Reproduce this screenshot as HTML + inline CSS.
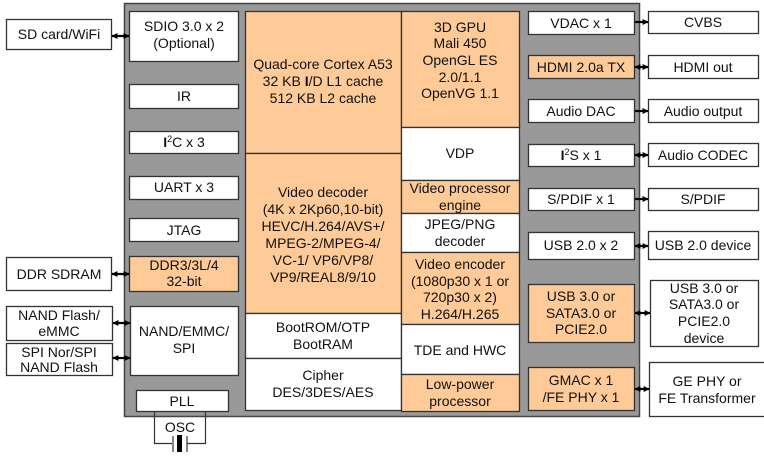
<!DOCTYPE html>
<html><head><meta charset="utf-8"><style>
html,body{margin:0;padding:0;background:#fff;width:764px;height:458px;overflow:hidden}
svg{display:block}
text{font-family:"Liberation Sans",sans-serif;font-size:14px;fill:#111;text-anchor:middle}
.b{stroke:#333;stroke-width:1.3}
.w{fill:#fff}
.o{fill:#fdca98}
</style></head><body>
<svg width="764" height="458" viewBox="0 0 764 458">
<defs>
<marker id="a" viewBox="0 0 10 10" refX="9" refY="5" markerWidth="6" markerHeight="6" orient="auto-start-reverse" markerUnits="userSpaceOnUse"><path d="M0,0L10,5L0,10z" fill="#000"/></marker>
</defs>
<rect x="124.5" y="3.5" width="515" height="413" fill="#999" stroke="#444" stroke-width="1.5"/>
<rect class="b w" x="129.5" y="11.5" width="109" height="50"/>
<text x="184" y="31">SDIO 3.0 x 2</text><text x="184" y="48">(Optional)</text>
<rect class="b w" x="129.5" y="84.5" width="109" height="24"/><text x="184" y="101">IR</text>
<rect class="b w" x="129.5" y="131.5" width="109" height="22"/><text x="184" y="147"><tspan font-weight="bold">I</tspan><tspan font-size="9" dy="-5">2</tspan><tspan dy="5">C x 3</tspan></text>
<rect class="b w" x="129.5" y="176.5" width="109" height="23"/><text x="184" y="192">UART x 3</text>
<rect class="b w" x="129.5" y="218.5" width="109" height="23"/><text x="184" y="235">JTAG</text>
<rect class="b o" x="129.5" y="256.5" width="109" height="35"/><text x="184" y="270">DDR3/3L/4</text><text x="184" y="286">32-bit</text>
<rect class="b w" x="130.5" y="306.5" width="108" height="69"/><text x="184" y="336">NAND/EMMC/</text><text x="184" y="353">SPI</text>
<rect class="b w" x="136.5" y="390.5" width="92" height="21"/><text x="182" y="406">PLL</text>
<path d="M154.5 412V443.5H172M187 443.5H205.5V412" fill="none" stroke="#333" stroke-width="1.2"/>
<text x="180" y="432">OSC</text>
<line x1="173" y1="436" x2="173" y2="452" stroke="#333" stroke-width="1.2"/>
<line x1="187" y1="436" x2="187" y2="452" stroke="#333" stroke-width="1.2"/>
<rect x="177" y="435" width="5" height="17" fill="#000"/>
<rect class="b o" x="245.5" y="11.5" width="156" height="142"/>
<text x="323" y="69">Quad-core Cortex A53</text><text x="323" y="86">32 KB <tspan font-weight="bold">I</tspan>/D L1 cache</text><text x="323" y="103">512 KB L2 cache</text>
<rect class="b o" x="245.5" y="153.5" width="156" height="160"/>
<text x="323" y="197">Video decoder</text><text x="323" y="214">(4K x 2Kp60,10-bit)</text><text x="323" y="231">HEVC/H.264/AVS+/</text><text x="323" y="248">MPEG-2/MPEG-4/</text><text x="323" y="265">VC-1/ VP6/VP8/</text><text x="323" y="282">VP9/REAL8/9/10</text>
<rect class="b w" x="245.5" y="313.5" width="156" height="45"/><text x="323" y="332">BootROM/OTP</text><text x="323" y="349">BootRAM</text>
<rect class="b w" x="245.5" y="358.5" width="156" height="52"/><text x="323" y="380">Cipher</text><text x="323" y="397">DES/3DES/AES</text>
<rect class="b o" x="401.5" y="11.5" width="118" height="116"/>
<text x="460" y="32">3D GPU</text><text x="460" y="48">Mali 450</text><text x="460" y="65">OpenGL ES</text><text x="460" y="82">2.0/1.1</text><text x="460" y="98">OpenVG 1.1</text>
<rect class="b w" x="401.5" y="127.5" width="118" height="53"/><text x="460" y="158">VDP</text>
<rect class="b o" x="401.5" y="180.5" width="118" height="33"/><text x="460" y="193">Video processor</text><text x="460" y="210">engine</text>
<rect class="b w" x="401.5" y="213.5" width="118" height="39"/><text x="460" y="229">JPEG/PNG</text><text x="460" y="246">decoder</text>
<rect class="b o" x="401.5" y="252.5" width="118" height="72"/><text x="460" y="269">Video encoder</text><text x="460" y="286">(1080p30 x 1 or</text><text x="460" y="302">720p30 x 2)</text><text x="460" y="319">H.264/H.265</text>
<rect class="b w" x="401.5" y="324.5" width="118" height="50"/><text x="460" y="355">TDE and HWC</text>
<rect class="b o" x="401.5" y="374.5" width="118" height="37"/><text x="460" y="389">Low-power</text><text x="460" y="406">processor</text>
<rect class="b w" x="528.5" y="11.5" width="106" height="23"/><text x="581" y="28">VDAC x 1</text>
<rect class="b o" x="528.5" y="55.5" width="106" height="23"/><text x="581" y="72">HDMI 2.0a TX</text>
<rect class="b w" x="528.5" y="99.5" width="106" height="23"/><text x="581" y="116">Audio DAC</text>
<rect class="b w" x="528.5" y="144.5" width="106" height="22"/><text x="581" y="160"><tspan font-weight="bold">I</tspan><tspan font-size="9" dy="-5">2</tspan><tspan dy="5">S x 1</tspan></text>
<rect class="b w" x="528.5" y="188.5" width="106" height="22"/><text x="581" y="204">S/PDIF x 1</text>
<rect class="b w" x="528.5" y="232.5" width="106" height="27"/><text x="581" y="250">USB 2.0 x 2</text>
<rect class="b o" x="528.5" y="284.5" width="106" height="58"/><text x="581" y="301">USB 3.0 or</text><text x="581" y="318">SATA3.0 or</text><text x="581" y="334">PCIE2.0</text>
<rect class="b o" x="528.5" y="367.5" width="106" height="43"/><text x="581" y="385">GMAC x 1</text><text x="581" y="402">/FE PHY x 1</text>
<rect class="b w" x="6.5" y="19.5" width="105" height="30"/><text x="59" y="39">SD card/WiFi</text>
<rect class="b w" x="6.5" y="257.5" width="105" height="33"/><text x="59" y="279">DDR SDRAM</text>
<rect class="b w" x="6.5" y="306.5" width="106" height="34"/><text x="59" y="320">NAND Flash/</text><text x="59" y="336">eMMC</text>
<rect class="b w" x="6.5" y="343.5" width="106" height="32"/><text x="59" y="357">SPI Nor/SPI</text><text x="59" y="372">NAND Flash</text>
<rect class="b w" x="648.5" y="11.5" width="110" height="22"/><text x="703" y="27">CVBS</text>
<rect class="b w" x="648.5" y="55.5" width="110" height="23"/><text x="703" y="72">HDMI out</text>
<rect class="b w" x="648.5" y="99.5" width="110" height="23"/><text x="703" y="116">Audio output</text>
<rect class="b w" x="648.5" y="143.5" width="110" height="23"/><text x="703" y="160">Audio CODEC</text>
<rect class="b w" x="648.5" y="188.5" width="110" height="22"/><text x="703" y="204">S/PDIF</text>
<rect class="b w" x="648.5" y="231.5" width="110" height="28"/><text x="703" y="250">USB 2.0 device</text>
<rect class="b w" x="650.5" y="280.5" width="108" height="66"/><text x="704" y="293">USB 3.0 or</text><text x="704" y="309">SATA3.0 or</text><text x="704" y="326">PCIE2.0</text><text x="704" y="343">device</text>
<rect class="b w" x="649.5" y="362.5" width="116" height="54"/><text x="707" y="386">GE PHY or</text><text x="707" y="403">FE Transformer</text>
<g stroke="#000" stroke-width="2.2" fill="none">
<line x1="112" y1="36" x2="129" y2="36" marker-start="url(#a)" marker-end="url(#a)"/>
<line x1="112" y1="274" x2="129" y2="274" marker-start="url(#a)" marker-end="url(#a)"/>
<line x1="113" y1="323" x2="130" y2="323" marker-start="url(#a)" marker-end="url(#a)"/>
<line x1="113" y1="358" x2="130" y2="358" marker-start="url(#a)" marker-end="url(#a)"/>
<line x1="635" y1="22" x2="648" y2="22" marker-end="url(#a)"/>
<line x1="635" y1="67" x2="648" y2="67" marker-start="url(#a)" marker-end="url(#a)"/>
<line x1="635" y1="111" x2="648" y2="111" marker-end="url(#a)"/>
<line x1="635" y1="155" x2="648" y2="155" marker-start="url(#a)" marker-end="url(#a)"/>
<line x1="635" y1="199" x2="648" y2="199" marker-end="url(#a)"/>
<line x1="635" y1="246" x2="648" y2="246" marker-start="url(#a)" marker-end="url(#a)"/>
<line x1="635" y1="313" x2="650" y2="313" marker-start="url(#a)" marker-end="url(#a)"/>
<line x1="635" y1="389" x2="649" y2="389" marker-start="url(#a)" marker-end="url(#a)"/>
</g>
</svg>
</body></html>
